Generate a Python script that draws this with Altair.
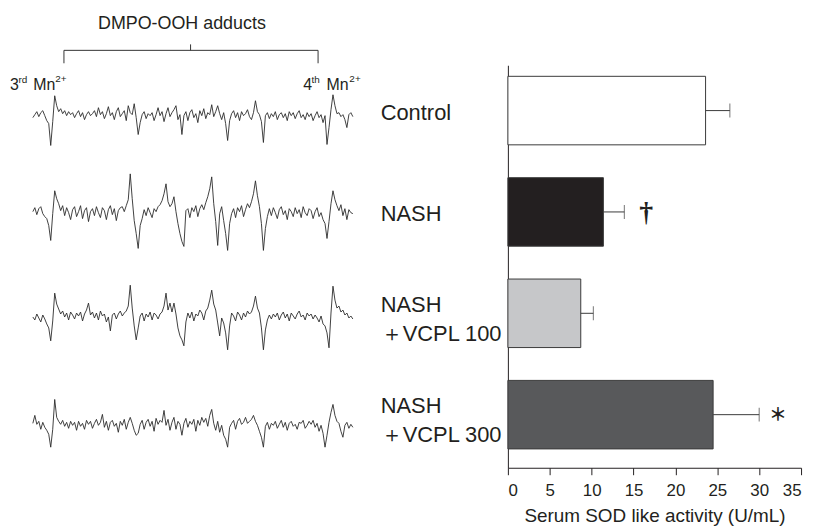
import altair as alt
import pandas as pd

# ---------------- data ----------------
groups = ["Control", "NASH", "NASH+VCPL100", "NASH+VCPL300"]
group_labels = ["Control", "NASH", "NASH\n＋VCPL 100", "NASH\n＋VCPL 300"]
sod_mean = [23.6, 11.4, 8.7, 24.5]
sod_err = [2.9, 2.5, 1.5, 5.5]
sig_marks = ["", "†", "", "＊"]
bar_fills = ["#ffffff", "#231f20", "#c6c7c9", "#58595b"]
x_ticks = [0, 5, 10, 15, 20, 25, 30, 35]

esr_control = [
    0, 3, 6, 1, 5, 7, 2, -3, -6, -28,
    -4, 22, 12, 6, 9, 4, 7, 2, 6, 3,
    5, 0, 4, 7, 1, 5, -2, 3, 6, 2,
    4, 7, 1, 10, 3, 6, -1, 4, 11, 2,
    5, -2, 6, 10, 1, 4, 7, -3, 12, 5,
    3, 14, 0, -17, -5, 3, 6, -1, 4, 2,
    5, -3, 3, 10, 2, 6, -4, 4, 10, 1,
    5, 8, 12, -2, 3, -17, 2, 6, -3, 5,
    8, 0, 4, -5, 7, 2, 9, -1, 5, 3,
    13, 1, 6, 12, 4, -2, 5, -6, -23, -3,
    4, 7, 0, 5, -3, 6, 2, 4, 8, 1,
    -2, 5, 17, 6, 3, -4, -25, 2, 5, -1,
    4, 1, 6, -2, 3, 5, 0, 4, -3, 6,
    2, 5, -1, 4, 7, 0, 3, -2, 5, 1,
    4, -3, 2, 6, 0, 3, -5, 2, -27, -10,
    8, 23, 12, 4, 5, 1, 3, -2, -10, 3, 5, 1,
]
esr_nash = [
    2, 6, -1, 5, 7, 0, -3, -5, -12, -27,
    0, 23, 15, 10, 3, 8, -2, 6, 1, -6,
    4, 7, -3, 2, 8, -5, 3, 6, -8, 2,
    5, -2, 7, 1, -4, 6, 3, -6, 4, 8,
    -1, 5, -7, 3, 6, 7, 2, 8, 14, 40,
    15, -7, -20, -35, -12, -5, 4, -2, 6, 1,
    -4, 5, 2, 7, 9, 13, 20, 30, 12, 7,
    10, 17, 2, -10, -20, -28, -33, 3, 5, -4,
    6, 2, 8, -3, 5, 9, 4, 11, 17, 25,
    37, 10, -8, -32, 0, 7, -7, -20, -37, -10,
    0, 5, -4, 6, 2, 8, -3, 4, 10, 6,
    12, 20, 33, 18, 7, -10, -37, -15, -3, 5,
    -2, 6, 1, -5, 4, 7, -1, 3, -6, 5,
    2, -3, 6, 0, 4, -4, 7, 1, -2, 5,
    3, -5, 2, 6, -3, 1, -6, -10, -25, -8,
    10, 23, 14, 8, 3, 9, -2, 5, -6, 4, 1, 0,
]
esr_vcpl100 = [
    1, -2, 4, 0, -4, 3, -1, -6, -10, -23,
    -3, 25, 14, 9, 4, 7, 1, 5, -2, 6,
    3, -1, 5, 2, 6, -3, 4, 8, 15, 3,
    6, 0, 5, -2, 7, 2, 4, -4, 1, -13,
    3, 5, -1, 4, 7, 2, 5, 7, 12, 33,
    10, -8, -22, -10, 2, 5, -3, 4, 1, 6,
    -2, 5, 3, -1, 4, 6, 12, 25, 8, 15,
    6, 15, 4, -10, -18, -22, -28, -4, 5, 0,
    6, -3, 4, 2, 8, 5, -2, 7, 10, 18,
    28, 14, 8, -5, -18, 0, -5, -15, -32, -8,
    5, 2, -3, 6, 3, -2, 5, 1, 7, 4,
    6, 12, 22, 10, 5, -10, -32, -12, -2, 3,
    -1, 4, 1, 5, -2, 3, 6, 0, 4, -3,
    5, 2, -1, 4, 7, 1, 3, -2, 5, 2,
    4, -1, 3, 0, -4, 2, -6, -8, -15, -30,
    5, 32, 18, 10, 12, 6, 8, 3, 5, 0, 2, -1,
]
esr_vcpl300 = [
    4, 12, 3, 6, -2, 5, 0, -3, -7, -20,
    -2, 28, 10, 6, 3, 7, 1, 5, -1, 6,
    2, 5, -3, 6, 1, 4, -2, 7, 3, 6,
    -1, 4, 8, 2, 5, 13, 0, 6, -3, 5,
    7, 1, 4, -5, 6, 2, 8, -2, 5, 10,
    4, -3, -8, -6, 3, 7, -2, 5, 8, 1,
    6, -4, 9, 3, 7, 5, 17, 2, 8, -3,
    5, 10, -2, 6, 3, -8, 4, 9, 0, 6,
    3, 8, -4, 7, 2, 10, 5, 9, 1, 12,
    18, 4, -3, 6, -5, 2, -8, -12, -20, 0,
    4, 7, -2, 6, 9, 3, 5, 10, 4, 6,
    8, 12, 6, 2, -4, -10, -20, 1, 5, -2,
    4, 2, 6, -1, 3, 7, 0, 5, -3, 4,
    6, 1, 3, -2, 5, 4, 7, -1, 2, 6,
    3, 7, 0, 4, -4, 2, -6, -20, -8, 5,
    15, 23, 12, 6, 4, -4, -10, 2, 5, -1, 3, 0,
]
esr_traces = [esr_control, esr_nash, esr_vcpl100, esr_vcpl300]

# ---------------- layout constants ----------------
PLOT_W, PLOT_H = 295, 405
TRACE_X0 = -478.0          # plot px of first ESR sample
TRACE_DX = 2.0             # plot px per ESR sample
TRACE_TOP = 52.7           # plot px of first trace baseline
TRACE_OFFSETS = [0, 96.6, 201.6, 311.6]   # vertical stacking of spectra
INK = "#231f20"
FONT = "Liberation Sans"

# ---------------- bar chart ----------------
bars_df = pd.DataFrame({
    "group": groups, "label": group_labels, "mean": sod_mean,
    "err": sod_err, "sig": sig_marks, "fill": bar_fills,
})
bars_df["upper"] = bars_df["mean"] + bars_df["err"]

y_scale = alt.Scale(paddingInner=0.324, paddingOuter=0.1475, align=0.37)
x_scale = alt.Scale(domain=[0, 35], nice=False, zero=True)
x_axis = alt.Axis(values=x_ticks, title="Serum SOD like activity (U/mL)", grid=False,
                  tickSize=7, tickColor=INK, tickWidth=1, domainColor=INK, domainWidth=1,
                  labelFontSize=17, labelColor=INK, labelPadding=8, labelFont=FONT,
                  titleFontSize=19, titleFontWeight="normal", titleColor=INK,
                  titlePadding=8, titleFont=FONT)
y_axis = alt.Axis(title=None, labels=False, ticks=False, grid=False,
                  domainColor=INK, domainWidth=1)


def yenc():
    return alt.Y("group:N", sort=groups, scale=y_scale, axis=y_axis)


def xenc(field):
    return alt.X(f"{field}:Q", scale=x_scale, axis=x_axis)


base = alt.Chart(bars_df)
bars = base.mark_bar(stroke="#3a3a3a", strokeWidth=1).encode(
    x=xenc("mean"), y=yenc(), fill=alt.Fill("fill:N", scale=None)
)
err_line = base.mark_rule(color="#3a3a3a", strokeWidth=1).encode(
    x=xenc("mean"), x2="upper:Q", y=yenc()
)
err_cap = base.mark_tick(color="#3a3a3a", thickness=1, size=14, orient="vertical").encode(
    x=xenc("upper"), y=yenc()
)
dagger = base.transform_filter(alt.datum.sig == "†").mark_text(
    font="Liberation Serif", fontSize=28, fontWeight="bold", dx=22, dy=1,
    align="center", baseline="middle", color=INK
).encode(x=xenc("upper"), y=yenc(), text="sig:N")
star = base.transform_filter(alt.datum.sig == "＊").mark_text(
    font="Noto Sans CJK KR", fontSize=18, fontWeight="bold", dx=19, dy=1,
    align="center", baseline="middle", color=INK
).encode(x=xenc("upper"), y=yenc(), text="sig:N")
labels_one = base.transform_filter(
    "indexof(datum.label, '\\n') < 0"
).mark_text(
    align="left", baseline="middle", fontSize=22, dy=2, color=INK, font=FONT
).encode(x=alt.value(-128), y=yenc(), text="label:N")
labels_two = base.transform_filter(
    "indexof(datum.label, '\\n') >= 0"
).mark_text(
    align="left", baseline="middle", fontSize=22, lineBreak="\n", lineHeight=29,
    dy=-8.5, color=INK, font=FONT
).encode(x=alt.value(-128), y=yenc(), text="label:N")

bar_group = alt.layer(bars, err_line, err_cap, dagger, star, labels_one, labels_two)

# ---------------- ESR spectra ----------------
rows = []
for g, trace, off in zip(groups, esr_traces, TRACE_OFFSETS):
    for i, d in enumerate(trace):
        rows.append({"group": g, "i": i, "y": d - off})
esr_df = pd.DataFrame(rows)

x_lo = -TRACE_X0 / TRACE_DX
esr_xscale = alt.Scale(domain=[x_lo, x_lo + PLOT_W / TRACE_DX], nice=False, zero=False)
esr_yscale = alt.Scale(domain=[TRACE_TOP - PLOT_H, TRACE_TOP], nice=False, zero=False)

spectra = alt.Chart(esr_df).mark_line(color="#2b2b2b", strokeWidth=0.9).encode(
    x=alt.X("i:Q", scale=esr_xscale, axis=None),
    y=alt.Y("y:Q", scale=esr_yscale, axis=None),
    detail="group:N",
)

# bracket over the DMPO-OOH adduct region (in sample units)
br_df = pd.DataFrame({"start": [15.65], "end": [143.5], "mid": [79.35]})
br = alt.Chart(br_df)
bx = lambda f: alt.X(f"{f}:Q", scale=esr_xscale, axis=None)
br_h = br.mark_rule(color="#333", strokeWidth=1).encode(x=bx("start"), x2="end:Q", y=alt.value(-15))
br_l = br.mark_rule(color="#333", strokeWidth=1).encode(x=bx("start"), y=alt.value(-15), y2=alt.value(-2))
br_r = br.mark_rule(color="#333", strokeWidth=1).encode(x=bx("end"), y=alt.value(-15), y2=alt.value(-2))
br_m = br.mark_rule(color="#333", strokeWidth=1).encode(x=bx("mid"), y=alt.value(-21), y2=alt.value(-15))


def piece(text, x, y, size):
    return alt.Chart(pd.DataFrame({"t": [text]})).mark_text(
        align="left", baseline="alphabetic", fontSize=size, color=INK, font=FONT
    ).encode(x=alt.value(x), y=alt.value(y), text="t:N")


title_txt = alt.Chart(pd.DataFrame({"t": ["DMPO-OOH adducts"]})).mark_text(
    align="center", baseline="alphabetic", fontSize=18, color=INK, font=FONT
).encode(x=alt.value(-328), y=alt.value(-36), text="t:N")

mn_pieces = [
    piece("3", -501, 24.7, 16), piece("rd", -492.5, 18, 10),
    piece("Mn", -477.5, 24.7, 16), piece("2+", -455.5, 17, 10),
    piece("4", -206, 24.7, 16), piece("th", -197.5, 18, 10),
    piece("Mn", -182.5, 24.7, 16), piece("2+", -159.5, 17, 10),
]

esr_group = alt.layer(spectra, br_h, br_l, br_r, br_m, title_txt, *mn_pieces)

chart = alt.layer(bar_group, esr_group).resolve_scale(
    x="independent", y="independent"
).properties(
    width=PLOT_W, height=PLOT_H,
    autosize=alt.AutoSizeParams(type="none"),
    padding={"left": 503, "top": 56, "right": 10, "bottom": 58},
).configure(font=FONT).configure_view(stroke="transparent", strokeWidth=0)

chart.save("out.html", embed_options={"renderer": "svg", "actions": False})
